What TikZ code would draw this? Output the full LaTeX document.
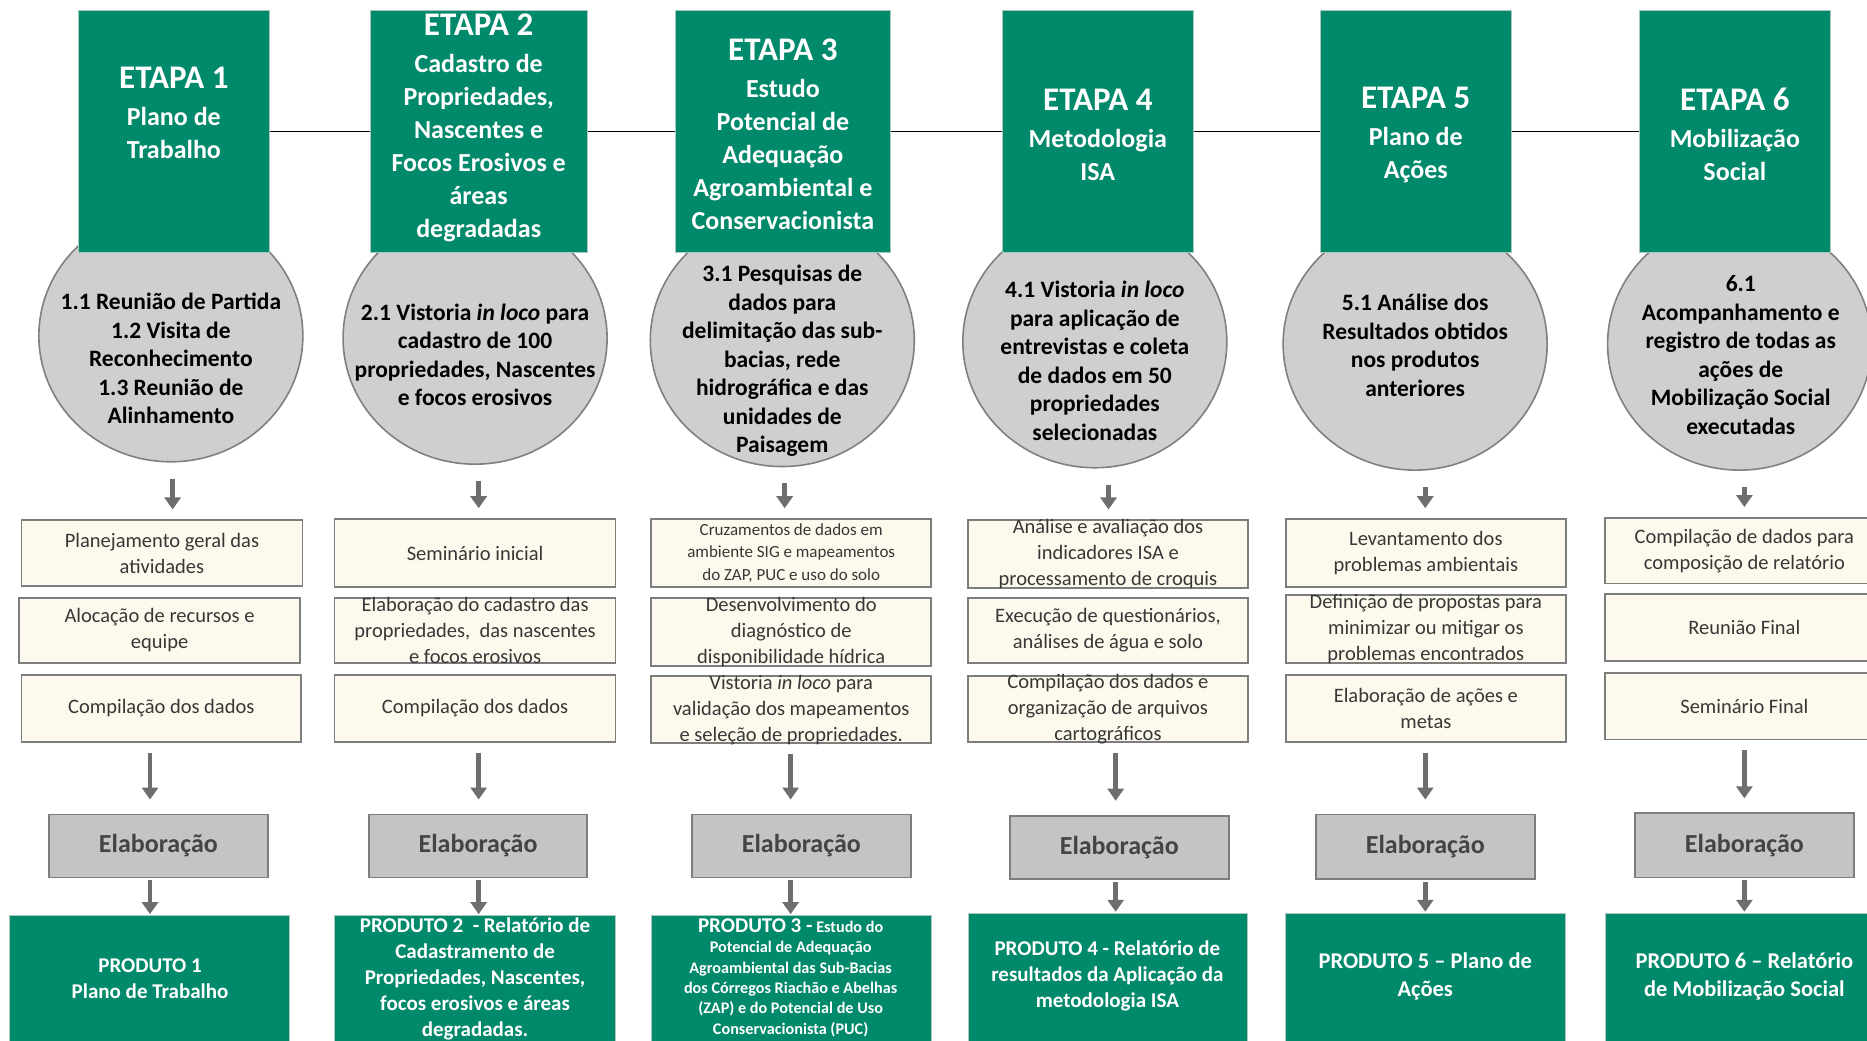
\documentclass[tikz,border=0pt]{standalone}
\usepackage{fontspec}
\setmainfont{Carlito}
\usetikzlibrary{shapes.geometric,arrows.meta,fit}
\definecolor{etgreen}{RGB}{0,137,106}
\definecolor{hdrborder}{RGB}{170,200,188}
\definecolor{circfill}{RGB}{208,207,207}
\definecolor{circborder}{RGB}{128,128,128}
\definecolor{creamfill}{RGB}{253,250,237}
\definecolor{boxborder}{RGB}{125,125,125}
\definecolor{elabfill}{RGB}{196,196,196}
\definecolor{elabtext}{RGB}{68,68,68}
\definecolor{creamtext}{RGB}{55,55,55}
\definecolor{arrowgray}{RGB}{110,110,110}
\begin{document}
\begin{tikzpicture}[x=1.1907pt,y=-1.1907pt,
  hdr/.style={fill=etgreen, draw=hdrborder, line width=1pt, inner sep=0pt},
  circ/.style={ellipse, fill=circfill, draw=circborder, line width=1.6pt, minimum width=264pt, minimum height=252pt, inner sep=0pt},
  cream/.style={fill=creamfill, draw=boxborder, line width=1.8pt, inner sep=0pt},
  elab/.style={fill=elabfill, draw=boxborder, line width=1.8pt, inner sep=0pt},
  prod/.style={fill=etgreen, draw=hdrborder, line width=1pt, inner sep=0pt},
  htxt/.style={text=white, font=\bfseries\fontsize{26}{33}\selectfont, align=center, inner sep=0pt},
  ctxt/.style={text=black, font=\bfseries\fontsize{23.5}{28.5}\selectfont, align=center, inner sep=0pt},
  btxt/.style={text=creamtext, font=\fontsize{20.5}{26}\selectfont, align=center, inner sep=0pt},
  bsmall/.style={text=creamtext, font=\fontsize{17}{22.6}\selectfont, align=center, inner sep=0pt},
  etxt/.style={text=elabtext, font=\bfseries\fontsize{26}{31}\selectfont, inner sep=0pt},
  ptxt/.style={text=white, font=\bfseries\fontsize{21}{26}\selectfont, align=center, inner sep=0pt},
  pbig/.style={text=white, font=\bfseries\fontsize{22.5}{27.5}\selectfont, align=center, inner sep=0pt},
  psmall/.style={text=white, font=\bfseries\fontsize{16.2}{20.4}\selectfont, align=center, inner sep=0pt},
  arr/.style={draw=arrowgray, line width=4.5pt, -{Triangle[width=16pt,length=12pt]}},
  hline/.style={draw=black, line width=1.3pt}
]
\clip (0,0) rectangle (1568,874);
\fill[white] (0,0) rectangle (1568,874);
\newcommand{\etapa}[1]{{\fontsize{33}{38}\selectfont ETAPA #1}\\[4pt]}

% column coordinates for arrows
\coordinate (sa1) at (145,0);  \coordinate (la1) at (126,0);
\coordinate (sa2) at (402,0);  \coordinate (la2) at (402,0);
\coordinate (sa3) at (659,0);  \coordinate (la3) at (664,0);
\coordinate (sa4) at (931,0);  \coordinate (la4) at (937,0);
\coordinate (sa5) at (1197,0); \coordinate (la5) at (1197,0);
\coordinate (sa6) at (1465,0); \coordinate (la6) at (1465,0);

% circles
\node[circ] (c1) at (143.5,282) {};
\node[circ] (c2) at (399,284) {};
\node[circ] (c3) at (657,286) {};
\node[circ] (c4) at (919.5,287) {};
\node[circ] (c5) at (1188.5,289) {};
\node[circ] (c6) at (1461,289) {};

% headers
\node[hdr, fit={(66,9) (226,212)}] (h1) {};
\node[hdr, fit={(311,9) (493,212)}] (h2) {};
\node[hdr, fit={(567,9) (748,212)}] (h3) {};
\node[hdr, fit={(842,9) (1002,212)}] (h4) {};
\node[hdr, fit={(1109,9) (1269,212)}] (h5) {};
\node[hdr, fit={(1377,9) (1537,212)}] (h6) {};
\draw[hline] (h1.east) -- (h2.west);
\draw[hline] (h2.east) -- (h3.west);
\draw[hline] (h3.east) -- (h4.west);
\draw[hline] (h4.east) -- (h5.west);
\draw[hline] (h5.east) -- (h6.west);

\node[htxt] (h1t) at (146,95) {\etapa{1}Plano de\\Trabalho};
\node[htxt] (h2t) at (402,107) {\etapa{2}Cadastro de\\Propriedades,\\Nascentes e\\Focos Erosivos e\\áreas\\degradadas};
\node[htxt] (h3t) at (657.5,113) {\etapa{3}Estudo\\Potencial de\\Adequação\\Agroambiental e\\Conservacionista};
\node[htxt] (h4t) at (922,113) {\etapa{4}Metodologia\\ISA};
\node[htxt] (h5t) at (1189,113) {\etapa{5}Plano de\\Ações};
\node[htxt] (h6t) at (1457,113) {\etapa{6}Mobilização\\Social};

% circle texts
\node[ctxt] (c1t) at (143.5,301) {1.1 Reunião de Partida\\1.2 Visita de\\Reconhecimento\\1.3 Reunião de\\Alinhamento};
\node[ctxt] (c2t) at (399,298) {2.1 Vistoria \textit{in loco} para\\cadastro de 100\\propriedades, Nascentes\\e focos erosivos};
\node[ctxt] (c3t) at (657,303) {3.1 Pesquisas de\\dados para\\delimitação das sub-\\bacias, rede\\hidrográfica e das\\unidades de\\Paisagem};
\node[ctxt] (c4t) at (919.5,303) {4.1 Vistoria \textit{in loco}\\para aplicação de\\entrevistas e coleta\\de dados em 50\\propriedades\\selecionadas};
\node[ctxt] (c5t) at (1188.5,290) {5.1 Análise dos\\Resultados obtidos\\nos produtos\\anteriores};
\node[ctxt] (c6t) at (1462,298) {6.1\\Acompanhamento e\\registro de todas as\\ações de\\Mobilização Social\\executadas};

% cream boxes
\node[cream, fit={(18,437) (254,492)}] (b1a) {};
\node[cream, fit={(16,502) (252,557)}] (b1b) {};
\node[cream, fit={(18,567) (253,623)}] (b1c) {};
\node[cream, fit={(281,436) (517,493)}] (b2a) {};
\node[cream, fit={(281,502) (517,557)}] (b2b) {};
\node[cream, fit={(281,567) (517,623)}] (b2c) {};
\node[cream, fit={(547,436) (782,493)}] (b3a) {};
\node[cream, fit={(547,502) (782,559)}] (b3b) {};
\node[cream, fit={(547,568) (782,624)}] (b3c) {};
\node[cream, fit={(813,437) (1048,494)}] (b4a) {};
\node[cream, fit={(813,502) (1048,557)}] (b4b) {};
\node[cream, fit={(813,568) (1048,623)}] (b4c) {};
\node[cream, fit={(1080,436) (1315,493)}] (b5a) {};
\node[cream, fit={(1080,500) (1315,557)}] (b5b) {};
\node[cream, fit={(1080,567) (1315,623)}] (b5c) {};
\node[cream, fit={(1348,435) (1583,490)}] (b6a) {};
\node[cream, fit={(1348,499) (1583,555)}] (b6b) {};
\node[cream, fit={(1348,565) (1583,621)}] (b6c) {};

\node[btxt] (b1at) at (b1a) {Planejamento geral das\\atividades};
\node[btxt] (b1bt) at (b1b) {Alocação de recursos e\\equipe};
\node[btxt] (b1ct) at (b1c) {Compilação dos dados};
\node[btxt] (b2at) at (b2a) {Seminário inicial};
\node[btxt] (b2bt) at (b2b) {Elaboração do cadastro das\\propriedades,~ das nascentes\\e focos erosivos};
\node[btxt] (b2ct) at (b2c) {Compilação dos dados};
\node[bsmall] (b3at) at (b3a) {Cruzamentos de dados em\\ambiente SIG e mapeamentos\\do ZAP, PUC e uso do solo};
\node[btxt] (b3bt) at (b3b) {Desenvolvimento do\\diagnóstico de\\disponibilidade hídrica};
\node[btxt] (b3ct) at (b3c) {Vistoria \textit{in loco} para\\validação dos mapeamentos\\e seleção de propriedades.};
\node[btxt] (b4at) at (b4a) {Análise e avaliação dos\\indicadores ISA e\\processamento de croquis};
\node[btxt] (b4bt) at (b4b) {Execução de questionários,\\análises de água e solo};
\node[btxt] (b4ct) at (b4c) {Compilação dos dados e\\organização de arquivos\\cartográficos};
\node[btxt] (b5at) at (b5a) {Levantamento dos\\problemas ambientais};
\node[btxt] (b5bt) at (b5b) {Definição de propostas para\\minimizar ou mitigar os\\problemas encontrados};
\node[btxt] (b5ct) at (b5c) {Elaboração de ações e\\metas};
\node[btxt] (b6at) at (1465,462.5) {Compilação de dados para\\composição de relatório};
\node[btxt] (b6bt) at (1465,527) {Reunião Final};
\node[btxt] (b6ct) at (1465,593) {Seminário Final};

% elaboracao boxes
\node[elab, fit={(41,684) (225,737)}] (e1) {};
\node[elab, fit={(310,684) (493,737)}] (e2) {};
\node[elab, fit={(581,684) (765,737)}] (e3) {};
\node[elab, fit={(848,685) (1032,738)}] (e4) {};
\node[elab, fit={(1105,684) (1289,738)}] (e5) {};
\node[elab, fit={(1373,683) (1557,737)}] (e6) {};
\foreach \i in {1,...,6} {\node[etxt] (e\i t) at (e\i) {Elaboração};}

% product boxes
\node[prod, fit={(8,769) (243,880)}] (p1) {};
\node[prod, fit={(281,769) (517,880)}] (p2) {};
\node[prod, fit={(547,769) (782,880)}] (p3) {};
\node[prod, fit={(813,767) (1048,880)}] (p4) {};
\node[prod, fit={(1080,767) (1315,880)}] (p5) {};
\node[prod, fit={(1348,767) (1583,880)}] (p6) {};

\node[ptxt] (p1t) at (126,822) {PRODUTO 1\\Plano de Trabalho};
\node[ptxt] (p2t) at (399,822) {PRODUTO 2~~- Relatório de\\Cadastramento de\\Propriedades, Nascentes,\\focos erosivos e áreas\\degradadas.};
\node[psmall] (p3t) at (664,821) {{\fontsize{21}{26}\selectfont PRODUTO 3 -} Estudo do\\Potencial de Adequação\\Agroambiental das Sub-Bacias\\dos Córregos Riachão e Abelhas\\(ZAP) e do Potencial de Uso\\Conservacionista (PUC)};
\node[ptxt] (p4t) at (930,820) {PRODUTO 4 - Relatório de\\resultados da Aplicação da\\metodologia ISA};
\node[pbig] (p5t) at (1197,820) {PRODUTO 5 – Plano de\\Ações};
\node[pbig] (p6t) at (1465,820) {PRODUTO 6 – Relatório\\de Mobilização Social};

% arrows
\foreach \i in {1,...,6} {
  \draw[arr, shorten <=16pt, shorten >=10pt] (c\i.south -| sa\i) -- (b\i a.north -| sa\i);
  \draw[arr, shorten <=10pt, shorten >=14pt] (b\i c.south -| la\i) -- (e\i.north -| la\i);
  \draw[arr, shorten <=2pt, shorten >=1pt] (e\i.south -| la\i) -- (p\i.north -| la\i);
}
\end{tikzpicture}
\end{document}
